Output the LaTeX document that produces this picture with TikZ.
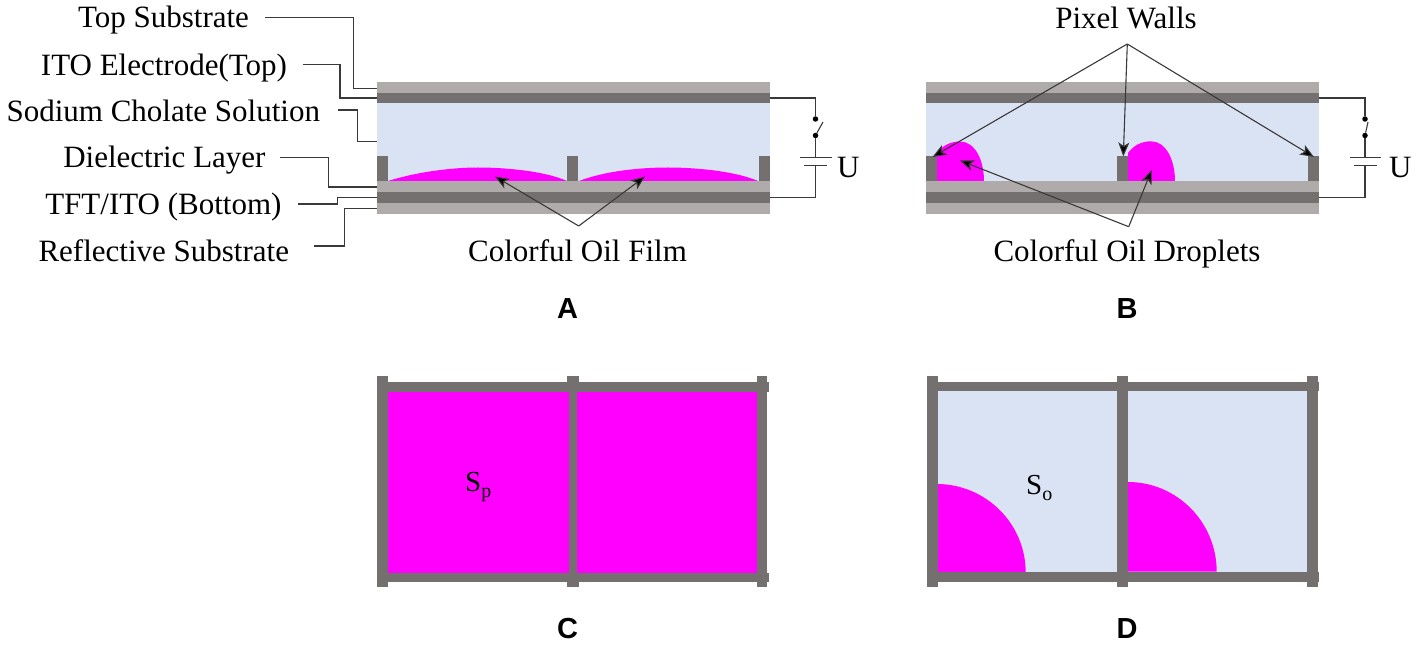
\documentclass[tikz,border=0pt]{standalone}
\usepackage{fontspec}
\setmainfont{Liberation Serif}
\newfontfamily\panelfont{Liberation Sans}[BoldFont={Liberation Sans Bold}]
\usetikzlibrary{arrows.meta}
\definecolor{wallgray}{HTML}{757070}
\definecolor{subgray}{HTML}{AFABAB}
\definecolor{soln}{HTML}{DAE3F3}
\definecolor{oilm}{HTML}{FF00FF}
\definecolor{ink}{HTML}{3B3838}
\tikzset{
  x=1pt,y=-1pt,
  lab/.style={inner sep=0pt,outer sep=0pt,font=\fontsize{31}{31}\selectfont,text=black},
  labr/.style={lab,anchor=base east},
  labc/.style={lab,anchor=base},
  panel/.style={inner sep=0pt,anchor=base,font=\panelfont\bfseries\fontsize{29}{29}\selectfont,text=black},
  leader/.style={draw=ink,line width=1.1pt},
  pointer/.style={draw=ink,line width=1.1pt,-{Stealth[length=14pt,width=11pt,inset=3.5pt,fill=black]}},
  wire/.style={draw=ink,line width=1.1pt},
  dark/.style={fill=wallgray,draw=none},
  light/.style={fill=subgray,draw=none},
  water/.style={fill=soln,draw=none},
  oil/.style={fill=oilm,draw=none},
  pin/.style={circle,fill=black,inner sep=0pt,minimum size=5.5pt},
  sname/.style={inner sep=0pt,anchor=base west,text=black},
}
\newcommand{\cellstack}[2]{%
  \fill[water] (#1,103) rectangle (#2,181);
  \fill[light] (#1,82.5) rectangle (#2,93);
  \fill[dark]  (#1,93) rectangle (#2,103.5);
  \fill[light] (#1,181) rectangle (#2,192.5);
  \fill[dark]  (#1,192.5) rectangle (#2,203);
  \fill[light] (#1,203) rectangle (#2,214);
}
\begin{document}
\begin{tikzpicture}
\useasboundingbox (0,0) rectangle (1417,652);
% ---------- panel A
\cellstack{377}{770}
\fill[dark] (377,156.5) rectangle (387.5,181);
\fill[dark] (567.3,156.5) rectangle (578,181);
\fill[dark] (758.7,156.5) rectangle (770,181);
\fill[oil] (388,181) .. controls (420,171) and (455,167.5) .. (478,167.5) .. controls (505,167.5) and (545,171) .. (567,181) -- cycle;
\fill[oil] (579,181) .. controls (605,171) and (640,167.5) .. (668,167.5) .. controls (695,167.5) and (735,171) .. (758,181) -- cycle;
% ---------- panel B
\cellstack{926.3}{1318.7}
\fill[oil] (937,181) -- (937,153) .. controls (942,146) and (950,141.5) .. (960,141.5) .. controls (975,141.5) and (984,160) .. (984,181) -- cycle;
\fill[oil] (1128,181) -- (1128,153) .. controls (1133,146) and (1141,141.3) .. (1151,141.3) .. controls (1166,141.3) and (1175,160) .. (1175,181) -- cycle;
\fill[dark] (926.3,156.5) rectangle (937,181);
\fill[dark] (1117.3,156.5) rectangle (1128,181);
\fill[dark] (1308.3,156.5) rectangle (1318.7,181);
% ---------- left labels
\node[labr] (topsub) at (249,27.5) {Top Substrate};
\node[labr] (itotop) at (287,76) {ITO Electrode(Top)};
\node[labr] (sodium) at (320,122) {Sodium Cholate Solution};
\node[labr] (dielec) at (265.5,168) {Dielectric Layer};
\node[labr] (tftito) at (281.5,215) {TFT/ITO (Bottom)};
\node[labr] (reflect) at (289,262) {Reflective Substrate};
\coordinate (lt1) at (265,17.5);  \coordinate (et1) at (377,88.5);
\coordinate (lt2) at (303,64.5);  \coordinate (et2) at (377,98);
\coordinate (lt3) at (338,110);   \coordinate (et3) at (377,141.5);
\coordinate (lt4) at (280,157.5); \coordinate (et4) at (377,187);
\coordinate (lt5) at (298,204);   \coordinate (et5) at (377,197.5);
\coordinate (lt6) at (314,246);   \coordinate (et6) at (377,208.5);
\draw[leader] (lt1) -- (353.5,17.5) -- (353.5,88.5) -- (et1);
\draw[leader] (lt2) -- (340,64.5) -- (340,98) -- (et2);
\draw[leader] (lt3) -- (357.5,110) -- (357.5,141.5) -- (et3);
\draw[leader] (lt4) -- (328.5,157.5) -- (328.5,187) -- (et4);
\draw[leader] (lt5) -- (337.5,204) -- (337.5,197.5) -- (et5);
\draw[leader] (lt6) -- (344.5,246) -- (344.5,208.5) -- (et6);
% ---------- callouts
\node[labc] (film) at (577.5,262) {Colorful Oil Film};
\node[labc] (walls) at (1126,28.5) {Pixel Walls};
\node[labc] (drops) at (1127,262) {Colorful Oil Droplets};
\coordinate (filmhub) at (578.7,226);
\coordinate (filmL) at (495,176.5);
\coordinate (filmR) at (645,176.5);
\draw[pointer] (filmhub) -- (filmL);
\draw[pointer] (filmhub) -- (filmR);
\coordinate (wallhub) at (1127.3,44);
\coordinate (wallL) at (932.5,157);
\coordinate (wallM) at (1123.3,156.5);
\coordinate (wallR) at (1314,157);
\draw[pointer] (wallhub) -- (wallL);
\draw[pointer] (wallhub) -- (wallM);
\draw[pointer] (wallhub) -- (wallR);
\coordinate (drophub) at (1128.7,226.7);
\coordinate (dropL) at (960,160.5);
\coordinate (dropR) at (1151.7,170);
\draw[pointer] (drophub) -- (dropL);
\draw[pointer] (drophub) -- (dropR);
% ---------- circuits
\foreach \cx/\rx/\nm/\lean in {815.5/770/a/7.5, 1365/1318.7/b/3}{
  \node[pin] (sw1\nm) at (\cx,119) {};
  \node[pin] (sw2\nm) at (\cx,135.5) {};
  \draw[wire] (\rx,98) -- (\cx,98) -- (sw1\nm);
  \draw[wire] (sw2\nm) -- (\cx+\lean,122);
  \draw[wire] (sw2\nm) -- (\cx,157.7);
  \draw[wire] (\cx-15.5,157.7) -- (\cx+16,157.7);
  \draw[wire] (\cx-11.5,165.7) -- (\cx+11.5,165.7);
  \draw[wire] (\cx,165.7) -- (\cx,197.5) -- (\rx,197.5);
}
\node[lab,anchor=base west] (ua) at (837,177.5) {U};
\node[lab,anchor=base west] (ub) at (1389,177.5) {U};
% ---------- panel C
\fill[oilm] (388,392) rectangle (757,572.5);
\fill[dark] (376.7,381.7) rectangle (769,392);
\fill[dark] (376.7,572.5) rectangle (769,582.3);
\fill[dark] (377,375.7) rectangle (388,586.7);
\fill[dark] (567.3,375.7) rectangle (579,392);
\fill[dark] (567.3,572.5) rectangle (579,586.7);
\fill[dark] (568.5,381.7) rectangle (577,582.3);
\fill[dark] (757,375.7) rectangle (767.3,586.7);
\node[sname] (sp) at (465,491.5) {\fontsize{29}{29}\selectfont S\raisebox{-6pt}{\fontsize{20}{20}\selectfont p}};
% ---------- panel D
\fill[soln] (936.7,391.5) rectangle (1307.5,572);
\fill[oilm] (936.7,572.5) -- (936.7,484) .. controls (985.8,484) and (1025.7,523.6) .. (1025.7,572.5) -- cycle;
\fill[oilm] (1128,571.7) -- (1128,482) .. controls (1177,482) and (1216.7,522.2) .. (1216.7,571.7) -- cycle;
\fill[dark] (926.5,381.7) rectangle (1318.5,391.5);
\fill[dark] (926.5,571.7) rectangle (1318.5,582.3);
\fill[dark] (927.3,375.7) rectangle (937.5,586.7);
\fill[dark] (1117.3,375.7) rectangle (1128,586.7);
\fill[dark] (1307.3,375.7) rectangle (1317.5,586.7);
\node[sname] (so) at (1026,494.5) {\fontsize{29}{29}\selectfont S\raisebox{-6pt}{\fontsize{20}{20}\selectfont o}};
% ---------- panel letters
\node[panel] (pA) at (567.5,319) {A};
\node[panel] (pB) at (1127,319) {B};
\node[panel] (pC) at (567.5,638) {C};
\node[panel] (pD) at (1127,638) {D};
\end{tikzpicture}
\end{document}
